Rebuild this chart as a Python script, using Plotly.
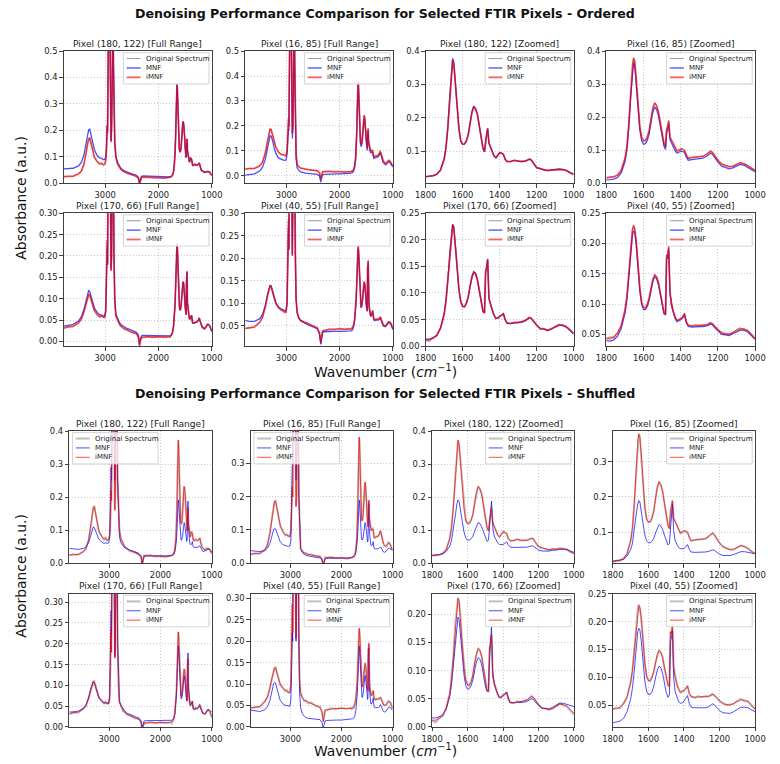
import plotly.graph_objects as go

W, H = 780, 764
FONT = "DejaVu Sans"

# ---------------- wavenumber grid (cm^-1) ----------------
WN_HI = [3776, 3700, 3600, 3500, 3450, 3400, 3360, 3330, 3310, 3290,
         3260, 3230, 3200, 3150, 3100, 3070, 3040, 3010, 2990, 2975,
         2962, 2955, 2945, 2935, 2925, 2915, 2900, 2890, 2880, 2870,
         2860, 2852, 2845, 2835, 2820, 2800, 2770, 2730, 2700, 2650,
         2600, 2500, 2420, 2380, 2365, 2355, 2345, 2335, 2320, 2300,
         2200, 2100, 2000, 1900, 1820]
WN_LO = [1800, 1780, 1760, 1740, 1720, 1700, 1690, 1680, 1670, 1660,
         1654, 1648, 1640, 1630, 1620, 1610, 1600, 1590, 1580, 1570,
         1560, 1550, 1540, 1530, 1520, 1510, 1500, 1490, 1482, 1476,
         1471, 1465, 1458, 1450, 1440, 1430, 1420, 1410, 1400, 1390,
         1380, 1370, 1360, 1340, 1320, 1300, 1280, 1260, 1240, 1230,
         1220, 1200, 1180, 1160, 1140, 1120, 1100, 1080, 1060, 1040,
         1020, 1000]

# ---------------- Pixel (180, 122) ----------------
A_orig_hi = [.024, .027, .026, .036, .044, .072, .108, .152, .166, .174,
             .148, .122, .096, .084, .071, .078, .069, .073, .083, .132,
             .222, .188, .420, .750, .900, .720, .350, .162, .208, .350,
             .600, .660, .450, .252, .148, .102, .073, .062, .050, .046,
             .037, .034, .025, .021, .006, -.007, .006, .014, .024, .022,
             .025, .020, .022, .019, .023]
A_orig_lo = [.022, .025, .025, .031, .041, .076, .109, .171, .259, .346,
             .373, .361, .311, .229, .166, .129, .121, .120, .131, .147,
             .181, .214, .233, .224, .209, .174, .136, .107, .099, .141,
             .147, .169, .124, .113, .097, .086, .079, .088, .096, .093,
             .091, .074, .069, .068, .073, .069, .069, .071, .075, .075,
             .065, .051, .046, .044, .040, .044, .042, .046, .043, .042,
             .034, .030]
A_imnf_hi = [.025, .025, .027, .035, .045, .070, .110, .150, .168, .172,
             .150, .120, .098, .082, .073, .076, .070, .072, .085, .130,
             .220, .190, .420, .750, .900, .720, .350, .160, .210, .350,
             .600, .660, .450, .250, .150, .100, .075, .060, .052, .044,
             .039, .032, .027, .020, .008, -.005, .005, .016, .022, .024,
             .023, .021, .020, .020, .022]
A_imnf_lo = [.023, .024, .026, .030, .042, .075, .110, .170, .260, .345,
             .372, .362, .310, .230, .165, .130, .120, .121, .130, .148,
             .180, .215, .232, .225, .208, .175, .135, .108, .098, .140,
             .148, .168, .125, .112, .098, .085, .080, .087, .095, .094,
             .090, .075, .068, .069, .072, .070, .068, .070, .076, .074,
             .066, .050, .047, .043, .041, .043, .043, .045, .044, .041,
             .035, .029]
A_mnf_ord_hi = [.055, .055, .057, .066, .078, .105, .150, .188, .202, .205,
                .182, .150, .126, .105, .095, .095, .090, .090, .100, .140,
                .215, .200, .420, .750, .900, .720, .350, .155, .210, .350,
                .600, .660, .450, .260, .160, .105, .080, .065, .056, .048,
                .043, .036, .031, .024, .012, .000, .008, .020, .026, .028,
                .027, .025, .024, .023, .023]
A_mnf_ord_lo = [.023, .024, .026, .030, .043, .076, .112, .173, .264, .350,
                .378, .367, .314, .233, .166, .130, .120, .121, .131, .150,
                .183, .218, .235, .228, .210, .176, .135, .107, .097, .138,
                .146, .166, .124, .112, .098, .085, .080, .087, .095, .094,
                .090, .075, .068, .069, .072, .070, .068, .070, .075, .073,
                .065, .050, .047, .043, .042, .044, .044, .046, .045, .042,
                .036, .031]
A_mnf_shuf_hi = [.045, .043, .042, .045, .050, .062, .085, .103, .110, .108,
                 .095, .082, .073, .065, .060, .062, .060, .062, .080, .200,
                 .290, .250, .450, .750, .900, .720, .400, .250, .300, .400,
                 .600, .650, .450, .250, .130, .080, .062, .052, .047, .043,
                 .040, .035, .030, .022, .010, -.003, .006, .016, .021, .022,
                 .022, .021, .021, .021, .022]
A_mnf_shuf_lo = [.023, .024, .025, .028, .036, .052, .070, .100, .140, .180,
                 .192, .188, .165, .128, .095, .077, .070, .070, .074, .082,
                 .097, .113, .123, .120, .110, .095, .077, .066, .070, .120,
                 .160, .188, .110, .083, .072, .062, .057, .056, .057, .060,
                 .065, .055, .049, .048, .048, .048, .047, .049, .053, .052,
                 .048, .040, .037, .036, .037, .039, .040, .043, .043, .042,
                 .038, .033]

# ---------------- Pixel (16, 85) ----------------
B_orig_hi = [.026, .030, .029, .041, .054, .092, .138, .176, .186, .188,
             .163, .137, .113, .097, .084, .087, .080, .082, .098, .162,
             .232, .198, .420, .750, .900, .720, .350, .172, .198, .350,
             .600, .660, .450, .202, .092, .043, .038, .029, .031, .026,
             .027, .021, .022, .011, -.002, -.014, -.001, .009, .018, .016,
             .019, .015, .017, .014, .017]
B_orig_lo = [.016, .019, .019, .026, .039, .076, .109, .176, .269, .356,
             .380, .369, .321, .239, .171, .137, .129, .129, .141, .159,
             .196, .227, .244, .234, .216, .179, .146, .119, .111, .164,
             .171, .190, .139, .131, .119, .106, .097, .101, .103, .104,
             .099, .086, .075, .079, .079, .081, .081, .089, .098, .093,
             .086, .069, .059, .054, .051, .051, .057, .063, .059, .055,
             .045, .040]
B_imnf_hi = [.028, .028, .030, .040, .055, .090, .140, .175, .187, .186,
             .165, .135, .115, .095, .085, .085, .082, .080, .100, .160,
             .230, .200, .420, .750, .900, .720, .350, .170, .200, .350,
             .600, .660, .450, .200, .090, .045, .036, .031, .029, .027,
             .025, .023, .020, .013, .000, -.012, -.002, .010, .016, .018,
             .017, .016, .015, .015, .016]
B_imnf_lo = [.017, .018, .020, .025, .040, .075, .110, .175, .270, .355,
             .378, .370, .320, .240, .170, .138, .128, .130, .140, .160,
             .195, .228, .243, .235, .215, .180, .145, .120, .110, .165,
             .170, .189, .140, .130, .120, .105, .098, .100, .104, .103,
             .100, .085, .076, .078, .080, .080, .082, .088, .097, .094,
             .085, .070, .058, .055, .050, .052, .056, .062, .060, .054,
             .046, .039]
B_mnf_ord_hi = [.003, .004, .008, .020, .035, .065, .110, .148, .160, .160,
                .140, .110, .090, .072, .065, .064, .062, .063, .085, .140,
                .190, .180, .400, .750, .900, .720, .350, .150, .190, .350,
                .600, .660, .450, .180, .070, .032, .022, .016, .013, .011,
                .010, .008, .006, .000, -.012, -.025, -.012, -.002, .004, .006,
                .006, .007, .008, .009, .010]
B_mnf_ord_lo = [.010, .011, .013, .018, .032, .066, .100, .165, .258, .342,
                .365, .357, .308, .230, .160, .128, .118, .120, .130, .150,
                .184, .216, .231, .223, .204, .170, .135, .112, .102, .155,
                .160, .180, .132, .122, .112, .098, .091, .093, .097, .096,
                .094, .079, .070, .072, .074, .074, .076, .082, .091, .088,
                .079, .064, .052, .049, .044, .047, .051, .057, .055, .049,
                .041, .035]
B_mnf_shuf_hi = [.038, .036, .035, .038, .045, .060, .085, .100, .105, .103,
                 .090, .075, .065, .056, .052, .052, .050, .052, .070, .200,
                 .290, .250, .450, .750, .900, .720, .400, .250, .300, .400,
                 .600, .650, .450, .200, .090, .045, .033, .027, .024, .022,
                 .020, .018, .016, .010, .000, -.006, .002, .010, .014, .015,
                 .015, .015, .015, .015, .016]
B_mnf_shuf_lo = [.018, .019, .020, .023, .032, .050, .068, .100, .145, .180,
                 .190, .186, .163, .125, .092, .076, .070, .070, .074, .083,
                 .098, .113, .122, .118, .108, .092, .075, .064, .068, .120,
                 .155, .180, .105, .078, .066, .057, .053, .053, .054, .058,
                 .065, .052, .044, .043, .043, .043, .044, .046, .050, .049,
                 .045, .038, .034, .033, .034, .037, .041, .045, .045, .043,
                 .041, .039]

# ---------------- Pixel (170, 66) ----------------
C_orig_hi = [.030, .035, .034, .044, .050, .070, .088, .106, .109, .110,
             .095, .084, .070, .065, .056, .061, .055, .058, .068, .152,
             .237, .178, .380, .700, .850, .700, .330, .167, .198, .330,
             .550, .600, .420, .202, .097, .058, .052, .038, .037, .028,
             .029, .020, .020, .010, -.002, -.012, -.001, .005, .011, .008,
             .012, .009, .011, .009, .012]
C_orig_lo = [.011, .008, .016, .019, .034, .059, .086, .124, .181, .217,
             .229, .222, .196, .147, .106, .082, .076, .073, .081, .091,
             .113, .129, .140, .135, .125, .103, .081, .064, .063, .139,
             .149, .163, .091, .077, .069, .057, .053, .052, .057, .057,
             .062, .049, .044, .042, .046, .044, .047, .048, .055, .052,
             .049, .039, .034, .032, .031, .032, .037, .042, .038, .036,
             .029, .022]
C_imnf_hi = [.032, .033, .036, .043, .052, .068, .090, .105, .110, .108,
             .097, .082, .072, .063, .058, .059, .057, .056, .070, .150,
             .235, .180, .380, .700, .850, .700, .330, .165, .200, .330,
             .550, .600, .420, .200, .095, .060, .050, .040, .035, .030,
             .027, .022, .018, .012, .000, -.010, -.002, .006, .009, .010,
             .010, .010, .010, .010, .011]
C_imnf_lo = [.012, .012, .015, .020, .033, .060, .085, .125, .180, .218,
             .228, .223, .195, .148, .105, .083, .074, .074, .080, .092,
             .112, .130, .139, .136, .124, .104, .080, .065, .062, .140,
             .148, .164, .090, .078, .068, .058, .052, .053, .056, .058,
             .061, .050, .043, .043, .044, .045, .046, .049, .054, .053,
             .048, .040, .033, .033, .030, .033, .036, .040, .040, .037,
             .031, .024]
C_mnf_ord_hi = [.036, .037, .040, .048, .057, .074, .097, .113, .119, .117,
                .105, .089, .078, .068, .062, .062, .060, .059, .072, .150,
                .220, .180, .380, .700, .850, .700, .330, .170, .200, .330,
                .550, .600, .420, .200, .098, .064, .054, .044, .039, .034,
                .031, .026, .022, .016, .004, -.006, .002, .010, .013, .014,
                .014, .013, .013, .013, .013]
C_mnf_ord_lo = [.013, .013, .016, .021, .034, .061, .086, .126, .181, .219,
                .229, .224, .196, .149, .106, .084, .075, .075, .081, .093,
                .113, .131, .140, .137, .125, .105, .081, .066, .063, .139,
                .147, .163, .090, .078, .068, .058, .052, .053, .056, .058,
                .061, .050, .043, .043, .044, .044, .045, .048, .053, .052,
                .047, .039, .032, .032, .029, .032, .035, .039, .039, .036,
                .030, .023]
C_mnf_shuf_hi = [.036, .036, .038, .045, .054, .070, .091, .104, .108, .106,
                 .095, .081, .071, .062, .057, .058, .056, .056, .075, .200,
                 .280, .220, .400, .700, .850, .700, .330, .170, .200, .330,
                 .550, .600, .420, .200, .098, .062, .052, .043, .038, .033,
                 .030, .025, .021, .015, .004, -.005, .003, .011, .014, .015,
                 .015, .015, .015, .015, .015]
C_mnf_shuf_lo = [.015, .016, .018, .022, .032, .055, .076, .110, .155, .188,
                 .195, .191, .168, .128, .092, .073, .067, .068, .073, .083,
                 .100, .115, .123, .120, .110, .092, .073, .063, .065, .120,
                 .155, .178, .100, .076, .066, .057, .052, .053, .055, .058,
                 .062, .050, .043, .043, .043, .044, .044, .046, .050, .049,
                 .045, .038, .033, .033, .032, .035, .038, .042, .042, .040,
                 .038, .036]

# ---------------- Pixel (40, 55) ----------------
D_orig_hi = [.043, .047, .046, .059, .068, .092, .113, .133, .137, .139,
             .123, .112, .098, .092, .083, .086, .079, .082, .098, .202,
             .287, .218, .420, .750, .900, .720, .350, .207, .238, .360,
             .600, .660, .450, .222, .112, .078, .070, .060, .062, .055,
             .057, .048, .047, .033, .020, .011, .023, .031, .040, .038,
             .044, .041, .045, .042, .045]
D_orig_lo = [.042, .046, .044, .053, .064, .091, .111, .146, .189, .223,
             .231, .224, .206, .164, .126, .101, .095, .093, .100, .109,
             .126, .140, .149, .144, .136, .117, .100, .085, .084, .181,
             .179, .196, .119, .101, .087, .079, .072, .075, .075, .080,
             .085, .070, .066, .063, .066, .064, .066, .065, .070, .067,
             .065, .057, .053, .050, .051, .052, .058, .061, .057, .057,
             .049, .042]
D_imnf_hi = [.045, .045, .048, .058, .070, .090, .115, .132, .138, .137,
             .125, .110, .100, .090, .085, .084, .081, .080, .100, .200,
             .285, .220, .420, .750, .900, .720, .350, .205, .240, .360,
             .600, .660, .450, .220, .110, .080, .068, .062, .060, .057,
             .055, .050, .045, .035, .022, .013, .022, .033, .038, .040,
             .042, .043, .043, .043, .044]
D_imnf_lo = [.044, .043, .046, .052, .065, .090, .112, .145, .190, .222,
             .229, .225, .205, .165, .125, .102, .094, .094, .099, .110,
             .125, .141, .148, .145, .135, .118, .099, .086, .083, .182,
             .178, .194, .120, .100, .088, .078, .073, .074, .076, .079,
             .084, .071, .065, .064, .065, .065, .065, .066, .069, .068,
             .064, .058, .052, .051, .050, .053, .056, .059, .059, .056,
             .050, .043]
D_mnf_ord_hi = [.062, .060, .060, .066, .076, .095, .118, .135, .140, .139,
                .127, .113, .102, .092, .087, .086, .084, .083, .100, .200,
                .270, .220, .420, .750, .900, .720, .350, .210, .240, .360,
                .600, .660, .450, .220, .110, .080, .067, .061, .059, .055,
                .053, .048, .043, .032, .018, .009, .018, .030, .035, .037,
                .038, .038, .038, .039, .040]
D_mnf_ord_lo = [.039, .039, .041, .047, .060, .085, .107, .140, .183, .214,
                .221, .218, .199, .160, .121, .099, .091, .091, .096, .107,
                .122, .138, .145, .142, .132, .115, .096, .084, .082, .178,
                .175, .190, .118, .098, .086, .076, .071, .072, .074, .077,
                .082, .069, .063, .062, .063, .063, .063, .064, .067, .066,
                .062, .056, .050, .049, .048, .051, .054, .057, .057, .054,
                .048, .042]
D_mnf_shuf_hi = [.039, .037, .036, .040, .047, .062, .085, .100, .104, .102,
                 .088, .072, .062, .054, .050, .050, .048, .048, .065, .160,
                 .220, .200, .400, .750, .900, .720, .350, .200, .240, .360,
                 .600, .660, .450, .200, .080, .045, .032, .025, .022, .020,
                 .019, .018, .017, .010, .001, -.004, .003, .011, .014, .015,
                 .016, .016, .016, .017, .017]
D_mnf_shuf_lo = [.018, .019, .021, .026, .038, .060, .080, .110, .152, .182,
                 .188, .185, .165, .128, .093, .075, .069, .069, .074, .084,
                 .099, .113, .120, .117, .107, .090, .073, .064, .068, .165,
                 .170, .184, .100, .075, .064, .056, .053, .054, .057, .062,
                 .067, .053, .046, .045, .045, .045, .045, .047, .052, .051,
                 .047, .040, .036, .035, .035, .038, .042, .046, .046, .045,
                 .041, .038]

WN = WN_HI + WN_LO
SPEC = {
    "A": dict(label="(180, 122)", orig=A_orig_hi + A_orig_lo, imnf=A_imnf_hi + A_imnf_lo,
              mnf_ord=A_mnf_ord_hi + A_mnf_ord_lo, mnf_shuf=A_mnf_shuf_hi + A_mnf_shuf_lo),
    "B": dict(label="(16, 85)", orig=B_orig_hi + B_orig_lo, imnf=B_imnf_hi + B_imnf_lo,
              mnf_ord=B_mnf_ord_hi + B_mnf_ord_lo, mnf_shuf=B_mnf_shuf_hi + B_mnf_shuf_lo),
    "C": dict(label="(170, 66)", orig=C_orig_hi + C_orig_lo, imnf=C_imnf_hi + C_imnf_lo,
              mnf_ord=C_mnf_ord_hi + C_mnf_ord_lo, mnf_shuf=C_mnf_shuf_hi + C_mnf_shuf_lo),
    "D": dict(label="(40, 55)", orig=D_orig_hi + D_orig_lo, imnf=D_imnf_hi + D_imnf_lo,
              mnf_ord=D_mnf_ord_hi + D_mnf_ord_lo, mnf_shuf=D_mnf_shuf_hi + D_mnf_shuf_lo),
}
for k, d in SPEC.items():
    for s in ("orig", "imnf", "mnf_ord", "mnf_shuf"):
        assert len(d[s]) == len(WN), (k, s, len(d[s]))

PANELS = [[("A", "full"), ("B", "full"), ("A", "zoom"), ("B", "zoom")],
          [("C", "full"), ("D", "full"), ("C", "zoom"), ("D", "zoom")]]

BLOCKS = [
    dict(name="Ordered", mnf="mnf_ord",
         cols=[(54.3, 206.7), (241, 393), (426.7, 579), (612.7, 765.7)],
         rows=[(46.7, 180.7), (211, 345.7)],
         title_y=8.5, xlab_y=370.5, ylab_y=196,
         yr=[[(0, .5), (-.03, .5), (.003, .4), (0, .4)],
             [(-.011, .30), (.005, .30), (0, .25), (.0305, .25)]],
         leg_left=[[False] * 4, [False] * 4],
         sty=dict(orig=("rgba(128,128,128,0.8)", 1.0),
                  mnf=("rgba(0,0,255,0.7)", 1.3),
                  imnf=("rgba(255,0,0,0.62)", 1.8))),
    dict(name="Shuffled", mnf="mnf_shuf",
         cols=[(60, 206.7), (246.7, 392.7), (433.3, 579.3), (619.3, 765.7)],
         rows=[(431.7, 565.7), (596.7, 731.5)],
         title_y=393.5, xlab_y=754.5, ylab_y=579,
         yr=[[(0, .4), (0, .397), (0, .4), (.012, .387)],
             [(0, .32), (0, .31), (0, .236), (.0106, .25)]],
         leg_left=[[True, True, False, False], [False] * 4],
         sty=dict(orig=("rgba(128,128,128,0.5)", 2.0),
                  mnf=("rgba(0,0,255,0.7)", 1.0),
                  imnf=("rgba(255,0,0,0.7)", 1.0))),
]


def px(x):
    return x / W


def py(y):
    return 1 - y / H


AX = "#404040"
fig = go.Figure()
layout = {}
shapes, annots = [], []
n = 0
for b in BLOCKS:
    for r in range(2):
        T, Bm = b["rows"][r]
        for c in range(4):
            L, R = b["cols"][c]
            n += 1
            key = "" if n == 1 else str(n)
            pid, kind = PANELS[r][c]
            d = SPEC[pid]
            full = kind == "full"
            series = [("orig", "orig", "Original Spectrum"),
                      (b["mnf"], "mnf", "MNF"),
                      ("imnf", "imnf", "iMNF")]
            for sname, skey, lname in series:
                col, w = b["sty"][skey]
                fig.add_trace(go.Scatter(x=WN, y=d[sname], mode="lines", name=lname,
                                         line=dict(color=col, width=w),
                                         xaxis="x" + key, yaxis="y" + key,
                                         showlegend=False, hoverinfo="skip"))
            common = dict(showline=True, linecolor=AX, linewidth=1, mirror=True,
                          ticks="outside", ticklen=3.5, tickwidth=1, tickcolor=AX,
                          tickfont=dict(size=8.4, family=FONT, color="#222"),
                          showgrid=True, gridcolor="rgba(150,150,150,0.5)",
                          griddash="1px,2px", gridwidth=0.8, zeroline=False)
            layout["xaxis" + key] = dict(
                domain=[px(L), px(R)], anchor="y" + key,
                range=[3776, 1000] if full else [1800, 1000],
                tickvals=[3000, 2000, 1000] if full else [1800, 1600, 1400, 1200, 1000],
                **common)
            y0, y1 = b["yr"][r][c]
            layout["yaxis" + key] = dict(
                domain=[py(Bm), py(T)], anchor="x" + key, range=[y0, y1],
                tick0=0, dtick=0.1 if r == 0 else 0.05,
                tickformat=".1f" if r == 0 else ".2f", **common)
            annots.append(dict(
                text=f"Pixel {d['label']} [{'Full Range' if full else 'Zoomed'}]",
                x=px((L + R) / 2), y=py(T - 1.5), xref="paper", yref="paper",
                xanchor="center", yanchor="bottom", showarrow=False, borderpad=0,
                font=dict(size=9.1, family=FONT, color="#222")))
            # legend box
            bw, bh = 88, 31.7
            x0 = L + 3.3 if b["leg_left"][r][c] else R - 3 - bw
            ly0 = T + 1.6
            shapes.append(dict(type="rect", xref="paper", yref="paper",
                               x0=px(x0), x1=px(x0 + bw), y0=py(ly0), y1=py(ly0 + bh),
                               fillcolor="rgba(255,255,255,0.8)",
                               line=dict(color="#d4d4d4", width=1), layer="above"))
            for i, (sname, skey, lname) in enumerate(series):
                col, w = b["sty"][skey]
                yy = ly0 + 6 + i * 9.5
                shapes.append(dict(type="line", xref="paper", yref="paper",
                                   x0=px(x0 + 3.3), x1=px(x0 + 17.7), y0=py(yy), y1=py(yy),
                                   line=dict(color=col, width=w), layer="above"))
                annots.append(dict(text=lname, x=px(x0 + 21.7), y=py(yy),
                                   xref="paper", yref="paper", xanchor="left",
                                   yanchor="middle", showarrow=False, borderpad=0,
                                   font=dict(size=7, family=FONT, color="#222")))
    # block texts
    annots.append(dict(text=f"<b>Denoising Performance Comparison for Selected FTIR Pixels - {b['name']}</b>",
                       x=px(385), y=py(b["title_y"]), xref="paper", yref="paper",
                       xanchor="center", yanchor="middle", showarrow=False,
                       font=dict(size=12.6, family=FONT, color="#111")))
    annots.append(dict(text="Wavenumber (<i>cm</i><sup>−1</sup>)",
                       x=px(385), y=py(b["xlab_y"]), xref="paper", yref="paper",
                       xanchor="center", yanchor="middle", showarrow=False, borderpad=0,
                       font=dict(size=13.9, family=FONT, color="#111")))
    annots.append(dict(text="Absorbance (a.u.)", textangle=-90,
                       x=px(10.5), y=py(b["ylab_y"]), xref="paper", yref="paper",
                       xanchor="center", yanchor="middle", showarrow=False,
                       font=dict(size=13.9, family=FONT, color="#111")))

fig.update_layout(width=W, height=H, margin=dict(l=0, r=0, t=0, b=0),
                  paper_bgcolor="white", plot_bgcolor="white",
                  shapes=shapes, annotations=annots, showlegend=False,
                  font=dict(family=FONT), **layout)
fig.write_html("out.html", config={"displayModeBar": False})
